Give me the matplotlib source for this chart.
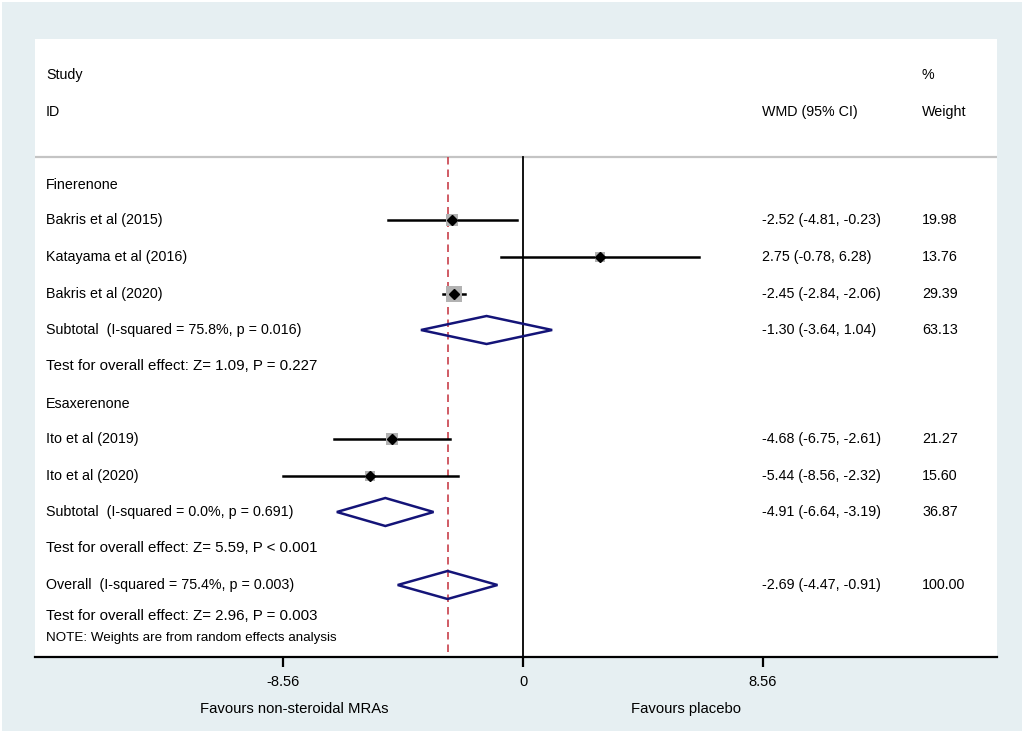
#!/usr/bin/env python

import matplotlib
matplotlib.use("Agg")
import matplotlib.pyplot as plt
from matplotlib.patches import Rectangle, Polygon

plt.rcParams['font.family'] = ['Liberation Sans', 'DejaVu Sans']

# study rows
studies = ["Bakris et al (2015)", "Katayama et al (2016)", "Bakris et al (2020)",
           "Ito et al (2019)", "Ito et al (2020)"]
wmd = [-2.52, 2.75, -2.45, -4.68, -5.44]
ci_lo = [-4.81, -0.78, -2.84, -6.75, -8.56]
ci_hi = [-0.23, 6.28, -2.06, -2.61, -2.32]
weight = [19.98, 13.76, 29.39, 21.27, 15.60]

# pooled rows: two subtotals and overall
pooled_labels = ["Subtotal  (I-squared = 75.8%, p = 0.016)",
                 "Subtotal  (I-squared = 0.0%, p = 0.691)",
                 "Overall  (I-squared = 75.4%, p = 0.003)"]
pooled_wmd = [-1.30, -4.91, -2.69]
pooled_lo = [-3.64, -6.64, -4.47]
pooled_hi = [1.04, -3.19, -0.91]
pooled_weight = [63.13, 36.87, 100.00]

groups = ["Finerenone", "Esaxerenone"]
tests = ["Test for overall effect: Z= 1.09, P = 0.227",
         "Test for overall effect: Z= 5.59, P < 0.001",
         "Test for overall effect: Z= 2.96, P = 0.003"]
note = "NOTE: Weights are from random effects analysis"

xticks = [-8.56, 0, 8.56]

# layout (y in pixel rows of the panel)
study_y = [220, 257, 294, 439, 476]
pooled_y = [330, 512, 585]
group_y = [185, 404]
test_y = [366, 548, 616]
note_y = 638

W, H = 1024, 734
px_zero = 523.0
px_per_unit = 240.0 / 8.56
pan_l, pan_r, pan_t, pan_b = 35, 997, 39, 657


def px2x(px):
    return (px - px_zero) / px_per_unit


fig = plt.figure(figsize=(W / 100, H / 100), dpi=100, facecolor='white')
fig.patches.append(Rectangle((2 / W, 3 / H), 1020 / W, 729 / H, transform=fig.transFigure,
                             facecolor='#e6eff2', edgecolor='none', zorder=-5))

ax = fig.add_axes([pan_l / W, (H - pan_b) / H, (pan_r - pan_l) / W, (pan_b - pan_t) / H])
ax.set_zorder(2)
ax.set_facecolor('white')
ax.set_xlim(px2x(pan_l), px2x(pan_r))
ax.set_ylim(pan_b, pan_t)
for s in ['top', 'left', 'right']:
    ax.spines[s].set_visible(False)
ax.spines['bottom'].set_linewidth(1.6)
ax.set_yticks([])
ax.set_xticks(xticks)
ax.set_xticklabels(["-8.56", "0", "8.56"], fontsize=10.5)
ax.tick_params(axis='x', direction='out', length=7, width=1.6, pad=6)

fs = 10.3
lx = px2x(46)
wx = px2x(762)
gx = px2x(922)

# headers
ax.text(lx, 75, "Study", fontsize=fs, va='center')
ax.text(lx, 112, "ID", fontsize=fs, va='center')
ax.text(gx, 75, "%", fontsize=fs, va='center')
ax.text(wx, 112, "WMD (95% CI)", fontsize=fs, va='center')
ax.text(gx, 112, "Weight", fontsize=fs, va='center')
ax.axhline(157, color='#c4c4c4', lw=1.6)

# reference lines
ax.plot([0, 0], [157, pan_b], color='black', lw=1.3, zorder=2)
ax.plot([pooled_wmd[2]] * 2, [157, pan_b], color='#c8404a', lw=1.2, ls=(0, (4.5, 3)), zorder=2)

for g, y in zip(groups, group_y):
    ax.text(lx, y, g, fontsize=fs, va='center')

for name, m, lo, hi, w, y in zip(studies, wmd, ci_lo, ci_hi, weight, study_y):
    ax.plot([lo, hi], [y, y], color='black', lw=1.8, zorder=3)
    ax.scatter([m], [y], marker='s', s=4.0 * w, color='#b2b2b2', zorder=4, linewidths=0)
    ax.plot([m], [y], marker='D', ms=5, color='black', zorder=5)
    ax.text(lx, y, name, fontsize=fs, va='center')
    ax.text(wx, y, "%.2f (%.2f, %.2f)" % (m, lo, hi), fontsize=fs, va='center')
    ax.text(gx, y, "%.2f" % w, fontsize=fs, va='center')

for name, m, lo, hi, w, y in zip(pooled_labels, pooled_wmd, pooled_lo, pooled_hi, pooled_weight, pooled_y):
    ax.add_patch(Polygon([[lo, y], [m, y - 14], [hi, y], [m, y + 14]], closed=True,
                         facecolor='none', edgecolor='#141478', lw=1.8, zorder=3))
    ax.text(lx, y, name, fontsize=fs, va='center')
    ax.text(wx, y, "%.2f (%.2f, %.2f)" % (m, lo, hi), fontsize=fs, va='center')
    ax.text(gx, y, "%.2f" % w, fontsize=fs, va='center')

for t, y in zip(tests, test_y):
    ax.text(lx, y, t, fontsize=fs + 0.5, va='center')
ax.text(lx, note_y, note, fontsize=fs - 0.7, va='center')

# favours labels
fig.text(294 / W, 1 - 709 / H, "Favours non-steroidal MRAs", fontsize=10.7, ha='center', va='center')
fig.text(686 / W, 1 - 709 / H, "Favours placebo", fontsize=10.7, ha='center', va='center')

plt.savefig("out.png", dpi=100)
